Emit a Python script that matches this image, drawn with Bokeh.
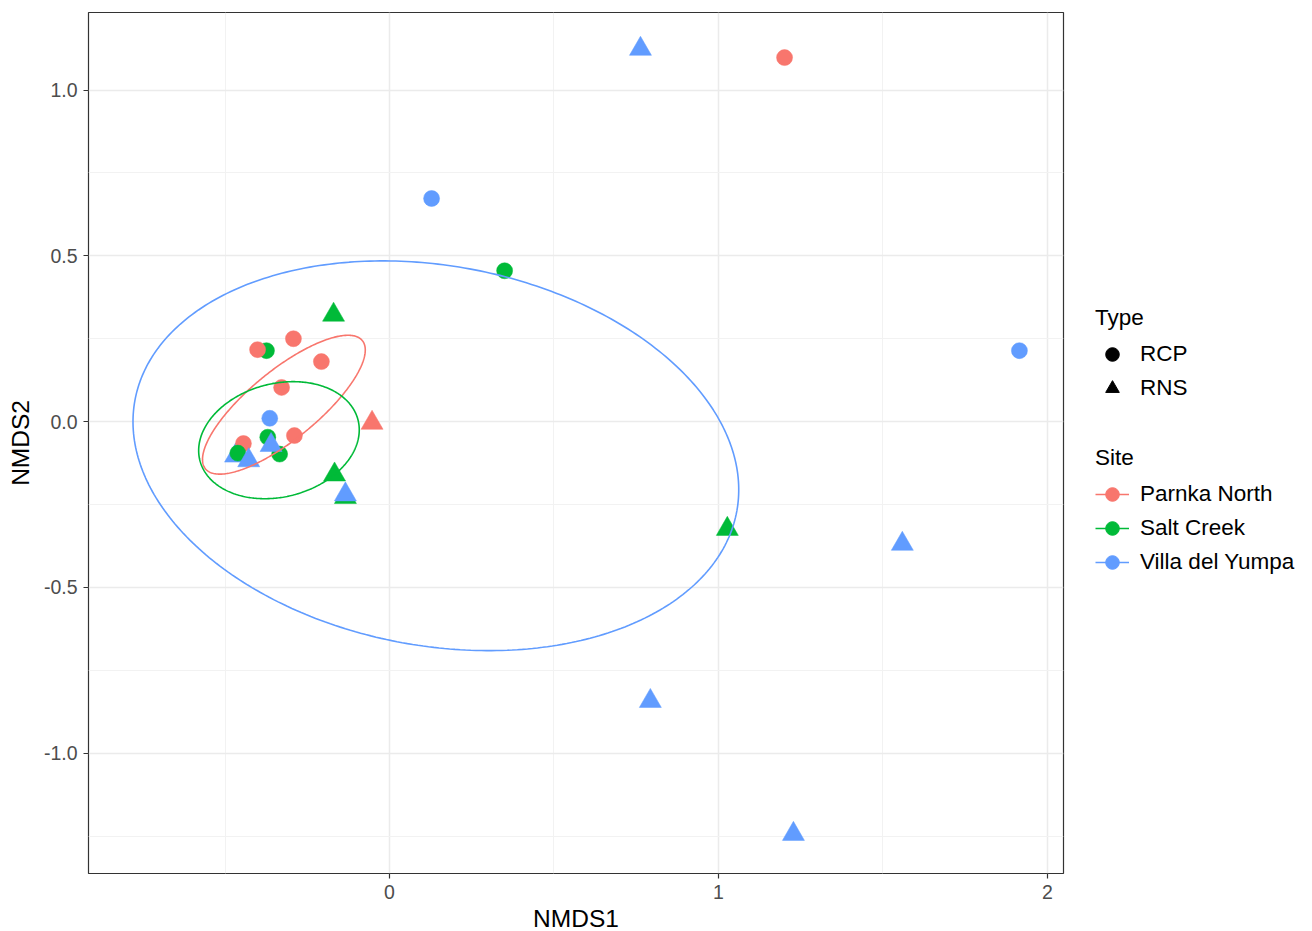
import numpy as np
from bokeh.plotting import figure
from bokeh.layouts import row
from bokeh.models import (ColumnDataSource, Range1d, FixedTicker, NumeralTickFormatter,
                          Legend, LegendItem)
from bokeh.embed import file_html
from bokeh.resources import INLINE

# ---------------- data ----------------
SITES = ["Parnka North", "Salt Creek", "Villa del Yumpa"]
TYPES = ["RCP", "RNS"]
SITE_COLORS = ["#F8766D", "#00BA38", "#619CFF"]

nmds1 = [-0.468, -0.374, -0.401, -0.292, -0.207, -0.328, -0.289, -0.444, 1.201, -0.053,
         0.350, -0.170, -0.370, -0.334, -0.461, -0.167, 1.027, -0.134,
         0.763, 0.128, 1.915, -0.364, -0.360, -0.428, -0.134, 1.559, 0.793, 1.228]
nmds2 = [-0.103, 0.214, 0.217, 0.250, 0.181, 0.103, -0.042, -0.066, 1.098, -0.004,
         0.455, 0.322, -0.047, -0.098, -0.095, -0.160, -0.324, -0.228,
         1.124, 0.673, 0.214, 0.010, -0.071, -0.117, -0.220, -0.369, -0.843, -1.244]
site = ["Villa del Yumpa", "Salt Creek", "Parnka North", "Parnka North", "Parnka North",
        "Parnka North", "Parnka North", "Parnka North", "Parnka North", "Parnka North",
        "Salt Creek", "Salt Creek", "Salt Creek", "Salt Creek", "Salt Creek", "Salt Creek",
        "Salt Creek", "Salt Creek",
        "Villa del Yumpa", "Villa del Yumpa", "Villa del Yumpa", "Villa del Yumpa",
        "Villa del Yumpa", "Villa del Yumpa", "Villa del Yumpa", "Villa del Yumpa",
        "Villa del Yumpa", "Villa del Yumpa"]
stype = ["RNS", "RCP", "RCP", "RCP", "RCP", "RCP", "RCP", "RCP", "RCP", "RNS",
         "RCP", "RNS", "RCP", "RCP", "RCP", "RNS", "RNS", "RNS",
         "RNS", "RCP", "RCP", "RCP", "RNS", "RNS", "RNS", "RNS", "RNS", "RNS"]

# 95% ellipse parameters per site (centre, semi-axes, rotation in degrees)
ell_cx = [-0.321, -0.336, 0.141]
ell_cy = [0.051, -0.056, -0.103]
ell_a = [0.307, 0.248, 0.930]
ell_b = [0.104, 0.171, 0.573]
ell_angle = [39.0, 14.1, -10.3]

X_TICKS = [0, 1, 2]
Y_TICKS = [-1.0, -0.5, 0.0, 0.5, 1.0]

# ---------------- main figure ----------------
FONT = "Liberation Sans"
H = 931
p = figure(frame_width=975, frame_height=861, output_backend="svg", toolbar_location=None,
           x_range=Range1d(-0.915, 2.049), y_range=Range1d(-1.363, 1.234),
           min_border_left=88, min_border_right=2, min_border_top=12, min_border_bottom=56,
           background_fill_color="white", border_fill_color="white")
p.outline_line_color = "#333333"
p.outline_line_width = 1.2

p.xaxis.ticker = FixedTicker(ticks=X_TICKS, minor_ticks=[-0.5, 0.5, 1.5])
p.yaxis.ticker = FixedTicker(ticks=Y_TICKS, minor_ticks=[-1.25, -0.75, -0.25, 0.25, 0.75])
p.xaxis.formatter = NumeralTickFormatter(format="0")
p.yaxis.formatter = NumeralTickFormatter(format="0.0")
p.xaxis.axis_label = "NMDS1"
p.yaxis.axis_label = "NMDS2"
for ax in (p.xaxis, p.yaxis):
    ax.axis_line_color = None
    ax.major_tick_line_color = "#333333"
    ax.major_tick_line_width = 1.2
    ax.major_tick_out = 5
    ax.major_tick_in = 0
    ax.minor_tick_line_color = None
    ax.major_label_text_font = FONT
    ax.major_label_text_font_size = "19.5px"
    ax.major_label_text_color = "#4D4D4D"
    ax.major_label_standoff = 6
    ax.axis_label_text_font = FONT
    ax.axis_label_text_font_size = "24.5px"
    ax.axis_label_text_font_style = "normal"
    ax.axis_label_text_color = "black"
p.xaxis.major_label_standoff = 6
p.xaxis.axis_label_standoff = 3
p.yaxis.axis_label_standoff = 7

for g in (p.xgrid, p.ygrid):
    g.grid_line_color = "#EBEBEB"
    g.grid_line_width = 1.5
    g.minor_grid_line_color = "#F2F2F2"
    g.minor_grid_line_width = 1.0

# ---------------- points ----------------
color_map = dict(zip(SITES, SITE_COLORS))
marker_map = {"RCP": "circle", "RNS": "triangle"}
size_map = {"RCP": 16, "RNS": 22}
src = ColumnDataSource(dict(
    x=nmds1, y=nmds2, site=site, type=stype,
    color=[color_map[s] for s in site],
    marker=[marker_map[t] for t in stype],
    size=[size_map[t] for t in stype],
))
p.scatter("x", "y", source=src, marker="marker", size="size",
          fill_color="color", line_color="color", line_width=0.5)

# ---------------- ellipses ----------------
t = np.linspace(0, 2 * np.pi, 361)
for i, s in enumerate(SITES):
    th = np.deg2rad(ell_angle[i])
    ex = ell_cx[i] + ell_a[i] * np.cos(t) * np.cos(th) - ell_b[i] * np.sin(t) * np.sin(th)
    ey = ell_cy[i] + ell_a[i] * np.cos(t) * np.sin(th) + ell_b[i] * np.sin(t) * np.cos(th)
    p.line(ex, ey, line_color=SITE_COLORS[i], line_width=1.6)

# ---------------- legend panel ----------------
LW = 240
lf = figure(width=LW, height=H, output_backend="svg", toolbar_location=None,
            x_range=Range1d(0, LW), y_range=Range1d(0, H),
            min_border=0, x_axis_location=None, y_axis_location=None,
            background_fill_color="white", border_fill_color="white")
lf.outline_line_color = None
lf.grid.visible = False

# legend-key renderers (their single point lies outside the visible range)
OFF = [-500]
type_r = [lf.scatter(x=OFF, y=OFF, marker="circle", size=15, color="black"),
          lf.scatter(x=OFF, y=OFF, marker="triangle", size=20, color="black")]
site_r = []
for c in SITE_COLORS:
    ln = lf.line(x=[-600, -500], y=OFF * 2, line_color=c, line_width=1.6)
    dot = lf.scatter(x=OFF, y=OFF, marker="circle", size=15, color=c)
    site_r.append([ln, dot])


def style_legend(lg):
    lg.title_text_font = FONT
    lg.title_text_font_size = "22.5px"
    lg.title_text_font_style = "normal"
    lg.title_text_color = "black"
    lg.title_standoff = 6
    lg.label_text_font = FONT
    lg.label_text_font_size = "22.5px"
    lg.label_text_color = "black"
    lg.glyph_width = 34
    lg.glyph_height = 34
    lg.label_height = 33
    lg.label_standoff = 11
    lg.spacing = -1
    lg.padding = 0
    lg.margin = 0
    lg.border_line_color = None
    lg.background_fill_alpha = 0


type_legend = Legend(title="Type",
                     items=[LegendItem(label=TYPES[k], renderers=[type_r[k]]) for k in range(2)],
                     location=(30, 465))
site_legend = Legend(title="Site",
                     items=[LegendItem(label=SITES[k], renderers=site_r[k]) for k in range(3)],
                     location=(30, 291))
style_legend(type_legend)
style_legend(site_legend)
lf.add_layout(type_legend, "center")
lf.add_layout(site_legend, "center")

layout = row(p, lf, spacing=0)
open("out.html", "w").write(file_html(layout, INLINE))
